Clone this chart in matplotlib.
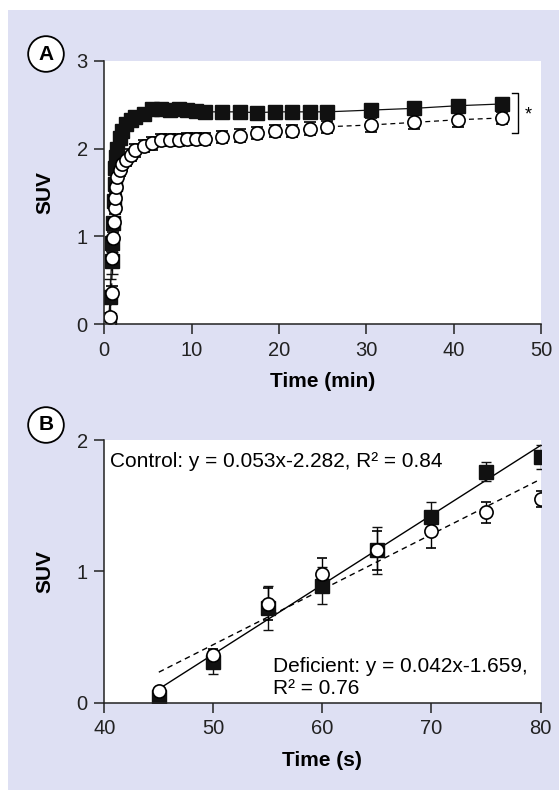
import matplotlib
matplotlib.use("Agg")
import matplotlib.pyplot as plt
from matplotlib.patches import Rectangle

plt.rcParams['font.family'] = ['Liberation Sans', 'DejaVu Sans']

# panel A: SUV vs time, control (squares) and deficient (circles)
time_min = [0.5, 0.67, 0.83, 0.92, 1.0, 1.08, 1.17, 1.25, 1.33, 1.5, 1.75, 2.0,
            2.5, 3.0, 3.5, 4.5, 5.5, 6.5, 7.5, 8.5, 9.5, 10.5, 11.5, 13.5,
            15.5, 17.5, 19.5, 21.5, 23.5, 25.5, 30.5, 35.5, 40.5, 45.5]
control_suv = [0.05, 0.31, 0.72, 0.92, 1.15, 1.40, 1.60, 1.78, 1.90, 2.00, 2.12, 2.20,
               2.28, 2.33, 2.36, 2.40, 2.45, 2.45, 2.44, 2.45, 2.44, 2.43, 2.42, 2.42,
               2.42, 2.41, 2.42, 2.42, 2.42, 2.42, 2.44, 2.46, 2.49, 2.51]
control_err = [0.05, 0.20, 0.15, 0.10, 0.06, 0.05, 0.05, 0.05, 0.05, 0.05, 0.05, 0.05,
               0.05, 0.05, 0.05, 0.05, 0.05, 0.05, 0.05, 0.05, 0.05, 0.05, 0.05, 0.05,
               0.05, 0.05, 0.05, 0.05, 0.05, 0.05, 0.05, 0.05, 0.05, 0.05]
deficient_suv = [0.01, 0.08, 0.35, 0.75, 0.98, 1.16, 1.32, 1.44, 1.56, 1.68, 1.76, 1.82,
                 1.87, 1.93, 1.98, 2.03, 2.06, 2.10, 2.10, 2.10, 2.11, 2.11, 2.11, 2.13,
                 2.15, 2.18, 2.20, 2.20, 2.23, 2.25, 2.27, 2.30, 2.33, 2.35]
deficient_err = [0.03, 0.05, 0.08, 0.08, 0.07, 0.06, 0.06, 0.06, 0.06, 0.06, 0.07, 0.07,
                 0.07, 0.07, 0.07, 0.07, 0.07, 0.07, 0.07, 0.07, 0.07, 0.07, 0.07, 0.07,
                 0.07, 0.07, 0.07, 0.07, 0.07, 0.07, 0.08, 0.08, 0.08, 0.07]

# panel B: first 80 s with linear fits
time_s = [45, 50, 55, 60, 65, 70, 75, 80]
control_b = [0.04, 0.31, 0.72, 0.89, 1.16, 1.41, 1.76, 1.87]
control_b_err = [0.03, 0.09, 0.17, 0.14, 0.18, 0.12, 0.07, 0.09]
deficient_b = [0.09, 0.36, 0.75, 0.98, 1.16, 1.31, 1.45, 1.55]
deficient_b_err = [0.02, 0.05, 0.12, 0.12, 0.15, 0.13, 0.08, 0.06]
fit_control = (0.053, -2.282)
fit_deficient = (0.042, -1.659)

W, H = 559, 790
fig = plt.figure(figsize=(W / 100, H / 100), dpi=100)
fig.patch.set_facecolor('white')
fig.patches.append(Rectangle((7.5 / W, 0), 1, (H - 10) / H, transform=fig.transFigure,
                             facecolor='#dee0f3', edgecolor='none', zorder=-10))

axA = fig.add_axes([104.3 / W, 1 - 324 / H, (541 - 104.3) / W, (324 - 61) / H])
axB = fig.add_axes([104.3 / W, 1 - 702.5 / H, (540.5 - 104.3) / W, (702.5 - 440) / H])

sq = dict(fmt='s', color='#111111', ms=9.5, mfc='#111111', mec='#111111',
          capsize=4, elinewidth=1, capthick=1)
ci = dict(fmt='o', color='black', ms=9.5, mfc='white', mec='black', mew=1.2,
          capsize=4, elinewidth=1, capthick=1)

# panel A
axA.plot(time_min, control_suv, '-', color='#111111', lw=0.9)
axA.errorbar(time_min, control_suv, yerr=control_err, **sq)
axA.plot(time_min, deficient_suv, '--', color='black', lw=0.9, dashes=(4, 3))
axA.errorbar(time_min, deficient_suv, yerr=deficient_err, **ci)
axA.plot([46.7, 47.35, 47.35, 46.7], [2.63, 2.63, 2.18, 2.18], color='black',
         lw=1, clip_on=False)
axA.text(48.1, 2.38, '*', fontsize=13, va='center', ha='left')
axA.set_xlim(0, 50)
axA.set_ylim(0, 3)
axA.set_xticks([0, 10, 20, 30, 40, 50])
axA.set_yticks([0, 1, 2, 3])
axA.set_xlabel('Time (min)', fontsize=15, fontweight='bold', labelpad=9)
axA.set_ylabel('SUV', fontsize=15, fontweight='bold', labelpad=16)

# panel B
xs = [time_s[0], time_s[-1]]
axB.plot(xs, [fit_control[0] * x + fit_control[1] for x in xs], '-', color='black', lw=1)
axB.plot(xs, [fit_deficient[0] * x + fit_deficient[1] for x in xs], '--', color='black',
         lw=1, dashes=(4, 3))
axB.errorbar(time_s, control_b, yerr=control_b_err, **dict(sq, capsize=3.5))
axB.errorbar(time_s, deficient_b, yerr=deficient_b_err, **dict(ci, capsize=3.5))
axB.text(40.5, 1.835, 'Control: y = 0.053x-2.282, R² = 0.84', fontsize=15,
         ha='left', va='center')
axB.text(55.5, 0.19, 'Deficient: y = 0.042x-1.659,\nR² = 0.76', fontsize=15,
         ha='left', va='center', linespacing=1.15)
axB.set_xlim(40, 80)
axB.set_ylim(0, 2)
axB.set_xticks([40, 50, 60, 70, 80])
axB.set_yticks([0, 1, 2])
axB.set_xlabel('Time (s)', fontsize=15, fontweight='bold', labelpad=9)
axB.set_ylabel('SUV', fontsize=15, fontweight='bold', labelpad=16)

for ax in (axA, axB):
    ax.set_facecolor('white')
    for s in ('top', 'right'):
        ax.spines[s].set_visible(False)
    for s in ('left', 'bottom'):
        ax.spines[s].set_linewidth(1.1)
        ax.spines[s].set_color('#222222')
    ax.tick_params(direction='out', length=7, width=1.1, labelsize=14.5, pad=5,
                   colors='#222222')

for label, yc in (('A', 54), ('B', 425)):
    fig.text(46 / W, 1 - yc / H, label, fontsize=15, fontweight='bold', ha='center',
             va='center', bbox=dict(boxstyle='circle,pad=0.4', fc='white', ec='black', lw=1.3))

fig.savefig('out.png', dpi=100)
